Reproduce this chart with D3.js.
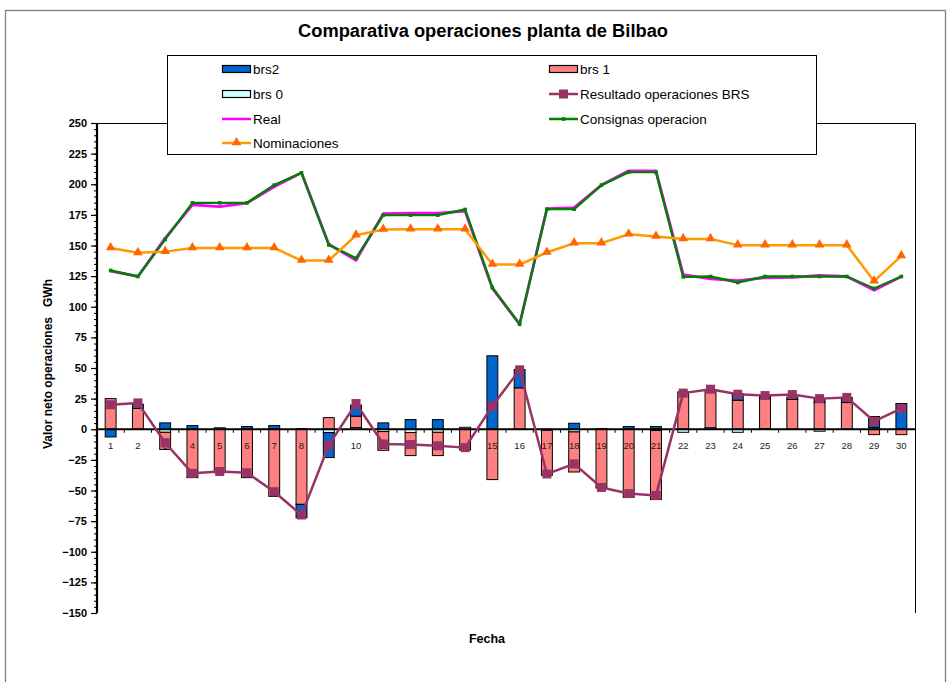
<!DOCTYPE html>
<html><head><meta charset="utf-8">
<script src="https://cdn.jsdelivr.net/npm/d3@7/dist/d3.min.js"></script>
<style>
html,body{margin:0;padding:0;background:#fff;}
svg{display:block;font-family:"Liberation Sans",Arial,sans-serif;}
</style></head>
<body>
<svg id="chart" width="949" height="682"></svg>
<script>
const categories = ["1","2","3","4","5","6","7","8","9","10","11","12","13","14","15","16","17","18","19","20","21","22","23","24","25","26","27","28","29","30"];
const brs2 = [-6.3,3.5,5.2,3,0,2.2,3,-11,-20.4,9,5.2,7.9,7.9,0,60,15,0,4.9,0,2.2,2.2,0,0,5.5,1.5,2,3.3,4,9,21];
const brs1 = [25,17,-14,-39.5,-35.5,-39.5,-54.8,-61.3,9.5,9.3,-15.3,-18.8,-19,-17,-41.1,33.8,-36.8,-32.7,-48,-55.6,-56.4,30.5,31,23.7,25,24.3,21.8,21.8,-4.4,-4.4];
const brs0 = [0,0,-2.5,0,1.2,0,0,0.5,-2.7,1.4,-1.9,-2.7,-2.5,1.6,0,0,-0.8,-2.2,0.5,0,-1,-2.5,1.2,-2.5,0.5,0,-1.6,0,1.4,0];
const resultado = [20,21.5,-11,-36,-34.5,-35.5,-51,-70,-13,21,-12,-12.5,-13.5,-15,19,48.5,-36.5,-28.3,-47.5,-52.5,-54,29.5,32.7,28.6,27.5,28.3,25,26,6.5,17];
const real = [129,124.7,156,183.2,181.8,184.6,198,209.3,151,138,176,176.5,176.5,178,115,85.7,180,181,199.3,211,211,126.3,122.8,121.4,123.6,124,125.5,124.7,113.5,124.7];
const consignas = [129.6,124.7,155,184.8,184.8,184.8,199.3,209.3,150.5,139.6,174.8,174.8,174.8,179.4,115.7,85.7,179.7,179.7,199.3,209.9,209.9,124.4,124.7,119.8,124.7,124.7,124.7,124.7,114.9,124.7];
const nominaciones = [148,144,145,148,148,148,148,137.7,137.7,158.4,163,163.3,163.3,163.3,134.5,134.5,144.3,151.9,151.9,159.2,157.4,155.4,155.4,150.3,150.3,150.3,150.3,150.3,120.9,141.5];
const yTicks = [250,225,200,175,150,125,100,75,50,25,0,-25,-50,-75,-100,-125,-150];

const barSeries = [
  {name:"brs 0", values:brs0, fill:"#CCFFFF"},
  {name:"brs 1", values:brs1, fill:"#FF8080"},
  {name:"brs2", values:brs2, fill:"#0066CC"}
];

const svg = d3.select("#chart");
const L = 97, R = 915, T = 123, B = 613;
const x = d3.scaleBand().domain(categories).range([L, R]).paddingInner(0).paddingOuter(0);
const y = d3.scaleLinear().domain([-150, 250]).range([B, T]);
const cx = c => x(c) + x.bandwidth()/2;

// outer frame
svg.append("rect").attr("x",5.5).attr("y",10.5).attr("width",940).attr("height",700)
  .attr("fill","#fff").attr("stroke","#7f7f7f").attr("stroke-width",1.3);

// title
svg.append("text").attr("x",483).attr("y",37).attr("text-anchor","middle")
  .attr("font-weight","bold").attr("font-size",17.5).attr("textLength",370).attr("lengthAdjust","spacingAndGlyphs")
  .text("Comparativa operaciones planta de Bilbao");

// plot border (top/right)
svg.append("path").attr("d",`M${L},${T+0.5}H${R+0.5}V${B}`).attr("fill","none").attr("stroke","#000").attr("stroke-width",1);

// bars (stacked, positive/negative separately)
const bw = x.bandwidth()/2.5;
const stacks = [];
categories.forEach((c,i) => {
  let pos = 0, neg = 0;
  barSeries.forEach(s => {
    const v = s.values[i];
    if (v === 0) return;
    let y0, y1;
    if (v > 0) { y0 = pos; y1 = pos + v; pos = y1; } else { y0 = neg; y1 = neg + v; neg = y1; }
    stacks.push({c, y0, y1, fill:s.fill});
  });
});
svg.append("g").selectAll("rect").data(stacks).join("rect")
  .attr("x", d => cx(d.c) - bw/2)
  .attr("y", d => y(Math.max(d.y0,d.y1)))
  .attr("width", bw)
  .attr("height", d => Math.abs(y(d.y0) - y(d.y1)))
  .attr("fill", d => d.fill).attr("stroke","#000").attr("stroke-width",1);

// y axis
const yMinor = d3.range(-150, 251, 5);
svg.append("g").attr("transform",`translate(${L},0)`)
  .call(d3.axisLeft(y).tickValues(yMinor).tickSize(3).tickFormat(""))
  .call(g => g.select(".domain").remove())
  .call(g => g.selectAll("line").attr("stroke","#000"));
const ya = svg.append("g").attr("transform",`translate(${L},0)`)
  .call(d3.axisLeft(y).tickValues(yTicks).tickSize(6).tickPadding(4).tickFormat(d3.format("d")));
ya.select(".domain").attr("stroke","#000").attr("stroke-width",2.2).attr("d",`M0,${T}V${B}`);
ya.selectAll("line").attr("stroke","#000").attr("stroke-width",1.2);
ya.selectAll("text").attr("font-size",11).attr("font-weight","bold").attr("fill","#000")
  .attr("font-family","Liberation Sans, Arial, sans-serif");

// zero axis
svg.append("line").attr("x1",L).attr("x2",R).attr("y1",y(0)).attr("y2",y(0))
  .attr("stroke","#000").attr("stroke-width",2.2);
svg.append("g").selectAll("line").data(categories.slice(1)).join("line")
  .attr("x1", d => x(d)).attr("x2", d => x(d))
  .attr("y1", y(0)).attr("y2", y(0)+3.5).attr("stroke","#000").attr("stroke-width",1);
const xa = svg.append("g").attr("transform",`translate(0,${y(0)})`)
  .call(d3.axisBottom(x).tickSize(0).tickPadding(13));
xa.select(".domain").remove();
xa.selectAll("text").attr("font-size",9.5).attr("fill","#222")
  .attr("font-family","Liberation Sans, Arial, sans-serif");

// lines
const line = d3.line().x((d,i) => cx(categories[i])).y(d => y(d));
function drawLine(vals, color, w){
  svg.append("path").datum(vals).attr("d", line).attr("fill","none")
    .attr("stroke", color).attr("stroke-width", w).attr("stroke-linejoin","round");
}
drawLine(resultado, "#993366", 2.5);
svg.append("g").selectAll("rect").data(resultado).join("rect")
  .attr("x",(d,i)=>cx(categories[i])-4.5).attr("y",d=>y(d)-4.5)
  .attr("width",9).attr("height",9).attr("fill","#993366");

drawLine(real, "#FF00FF", 2.8);
drawLine(consignas, "#008000", 2.4);
svg.append("g").selectAll("rect").data(consignas).join("rect")
  .attr("x",(d,i)=>cx(categories[i])-1.8).attr("y",d=>y(d)-1.8)
  .attr("width",3.6).attr("height",3.6).attr("fill","#008000");

drawLine(nominaciones, "#FF9900", 2.5);
const tri = d3.symbol().type(d3.symbolTriangle).size(40);
svg.append("g").selectAll("path").data(nominaciones).join("path")
  .attr("transform",(d,i)=>`translate(${cx(categories[i])},${y(d)-0.5})`)
  .attr("d", tri).attr("fill","#FF6600");

// axis titles
svg.append("text").attr("transform","translate(52,364) rotate(-90)").attr("text-anchor","middle")
  .attr("font-weight","bold").attr("font-size",12).style("white-space","pre")
  .text("Valor neto operaciones   GWh");
svg.append("text").attr("x",487).attr("y",643).attr("text-anchor","middle")
  .attr("font-weight","bold").attr("font-size",12.5).text("Fecha");

// legend
const lg = svg.append("g");
lg.append("rect").attr("x",167.5).attr("y",55.5).attr("width",649).attr("height",99)
  .attr("fill","#fff").attr("stroke","#000").attr("stroke-width",1);
const legendItems = [
  {name:"brs2", type:"bar", fill:"#0066CC", col:0, row:0},
  {name:"brs 1", type:"bar", fill:"#FF8080", col:1, row:0},
  {name:"brs 0", type:"bar", fill:"#CCFFFF", col:0, row:1},
  {name:"Resultado operaciones BRS", type:"line", color:"#993366", marker:"square", col:1, row:1},
  {name:"Real", type:"line", color:"#FF00FF", col:0, row:2},
  {name:"Consignas operacion", type:"line", color:"#008000", marker:"small", col:1, row:2},
  {name:"Nominaciones", type:"line", color:"#FF9900", marker:"tri", col:0, row:3}
];
const colX = [222, 549], rowY = [69, 94, 119, 143];
legendItems.forEach(it => {
  const g = lg.append("g").attr("transform",`translate(${colX[it.col]},${rowY[it.row]})`);
  if (it.type === "bar") {
    g.append("rect").attr("x",0.5).attr("y",-3.5).attr("width",28).attr("height",7)
      .attr("fill",it.fill).attr("stroke","#000").attr("stroke-width",1.2);
  } else {
    g.append("line").attr("x1",0).attr("x2",29).attr("y1",0).attr("y2",0)
      .attr("stroke",it.color).attr("stroke-width",2.5);
    if (it.marker === "square") g.append("rect").attr("x",10).attr("y",-4.5).attr("width",9).attr("height",9).attr("fill",it.color);
    if (it.marker === "small") g.append("rect").attr("x",12.7).attr("y",-1.8).attr("width",3.6).attr("height",3.6).attr("fill",it.color);
    if (it.marker === "tri") g.append("path").attr("transform","translate(14.5,-0.5)").attr("d",tri).attr("fill","#FF6600");
  }
  g.append("text").attr("x",31).attr("y",5).attr("font-size",13.5).attr("fill","#000").text(it.name);
});
</script>
</body></html>
